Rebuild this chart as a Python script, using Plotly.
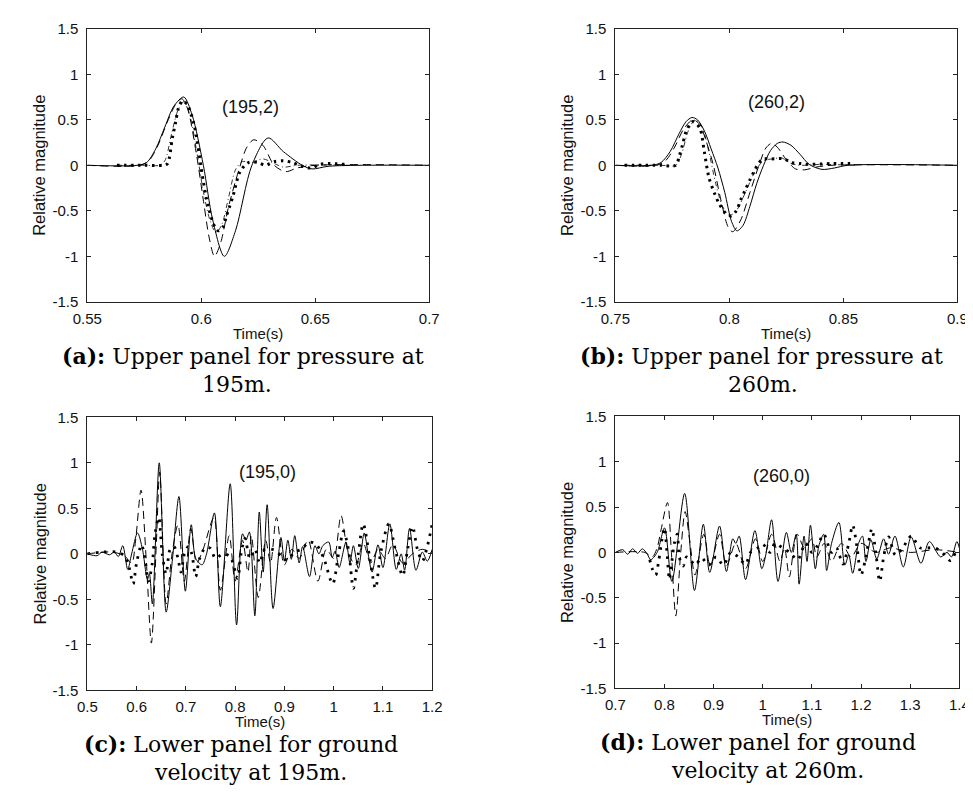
import plotly.graph_objects as go

W, H = 973, 802

# ---------------- data ----------------
# Panel (a): pressure at 195 m, (195,2)
a_solid_t = [0.550, 0.572, 0.576, 0.580, 0.584, 0.588, 0.5923, 0.596, 0.6009, 0.605, 0.6101, 0.615, 0.6222, 0.6293, 0.636, 0.6443, 0.6486, 0.656, 0.700]
a_solid_v = [0.0, 0.0, 0.03, 0.18, 0.42, 0.65, 0.75, 0.55, 0.0, -0.6, -1.0, -0.72, 0.0, 0.30, 0.15, 0.0, -0.04, -0.01, 0.0]
a_dash_t = [0.550, 0.573, 0.577, 0.581, 0.585, 0.589, 0.5915, 0.594, 0.598, 0.601, 0.6035, 0.6058, 0.6085, 0.612, 0.6165, 0.620, 0.623, 0.627, 0.632, 0.637, 0.642, 0.650, 0.700]
a_dash_v = [0.0, 0.0, 0.05, 0.22, 0.47, 0.68, 0.73, 0.62, 0.1, -0.4, -0.8, -1.0, -0.85, -0.45, -0.05, 0.2, 0.28, 0.22, 0.0, -0.07, -0.03, 0.0, 0.0]
a_dashdot_t = [0.563, 0.575, 0.5815, 0.584, 0.587, 0.590, 0.5925, 0.595, 0.598, 0.601, 0.604, 0.6065, 0.609, 0.612, 0.615, 0.618, 0.622, 0.627, 0.632, 0.636, 0.642, 0.665]
a_dashdot_v = [0.0, 0.0, 0.0, 0.05, 0.35, 0.62, 0.70, 0.55, 0.15, -0.3, -0.62, -0.74, -0.65, -0.35, -0.05, 0.04, 0.03, 0.07, 0.02, -0.02, 0.0, 0.0]
a_dot_t = [0.563, 0.575, 0.5835, 0.5852, 0.5873, 0.5888, 0.590, 0.5918, 0.594, 0.5968, 0.6009, 0.6031, 0.606, 0.6075, 0.6097, 0.611, 0.6139, 0.617, 0.6207, 0.625, 0.628, 0.632, 0.636, 0.640, 0.644, 0.648, 0.652, 0.656, 0.663]
a_dot_v = [0.0, 0.0, 0.0, 0.02, 0.3, 0.48, 0.63, 0.71, 0.66, 0.45, -0.18, -0.46, -0.68, -0.72, -0.67, -0.56, -0.34, -0.07, 0.03, 0.03, 0.0, 0.04, 0.05, 0.03, -0.01, -0.03, 0.01, 0.02, 0.01]

# Panel (b): pressure at 260 m, (260,2)
b_solid_t = [0.750, 0.766, 0.770, 0.774, 0.778, 0.781, 0.7836, 0.786, 0.789, 0.792, 0.795, 0.798, 0.801, 0.8033, 0.806, 0.809, 0.812, 0.815, 0.818, 0.821, 0.8235, 0.827, 0.831, 0.835, 0.8406, 0.846, 0.852, 0.900]
b_solid_v = [0.0, 0.0, 0.03, 0.15, 0.35, 0.48, 0.525, 0.50, 0.38, 0.18, -0.03, -0.3, -0.62, -0.72, -0.66, -0.45, -0.2, 0.0, 0.16, 0.24, 0.256, 0.22, 0.12, 0.01, -0.045, -0.03, 0.0, 0.0]
b_dash_t = [0.750, 0.768, 0.772, 0.776, 0.780, 0.784, 0.787, 0.790, 0.793, 0.796, 0.7995, 0.8015, 0.805, 0.809, 0.813, 0.816, 0.8185, 0.821, 0.825, 0.829, 0.833, 0.838, 0.845, 0.900]
b_dash_v = [0.0, 0.0, 0.05, 0.2, 0.4, 0.5, 0.45, 0.25, 0.0, -0.35, -0.68, -0.73, -0.6, -0.3, 0.0, 0.19, 0.24, 0.2, 0.06, -0.04, -0.05, -0.02, 0.0, 0.0]
b_dashdot_t = [0.754, 0.770, 0.7765, 0.779, 0.782, 0.785, 0.788, 0.791, 0.794, 0.797, 0.800, 0.803, 0.807, 0.811, 0.815, 0.819, 0.823, 0.827, 0.831, 0.840, 0.855]
b_dashdot_v = [0.0, 0.0, 0.0, 0.12, 0.38, 0.50, 0.42, 0.15, -0.2, -0.45, -0.55, -0.5, -0.3, -0.08, 0.05, 0.07, 0.08, 0.02, 0.0, 0.01, 0.0]
b_dot_t = [0.754, 0.770, 0.7765, 0.778, 0.7795, 0.781, 0.783, 0.784, 0.787, 0.789, 0.791, 0.7935, 0.7955, 0.7985, 0.8007, 0.803, 0.805, 0.807, 0.809, 0.811, 0.813, 0.815, 0.818, 0.824, 0.827, 0.831, 0.835, 0.845, 0.855]
b_dot_v = [0.0, 0.0, 0.0, 0.1, 0.23, 0.37, 0.46, 0.48, 0.41, 0.15, -0.13, -0.31, -0.42, -0.53, -0.557, -0.5, -0.38, -0.27, -0.16, -0.06, 0.03, 0.07, 0.07, 0.07, 0.03, 0.02, 0.01, 0.02, 0.02]

# Panel (c): ground velocity at 195 m, (195,0)
c_solid_t = [0.500, 0.520, 0.530, 0.545, 0.555, 0.563, 0.572, 0.582, 0.590, 0.602, 0.612, 0.622, 0.626, 0.632, 0.646, 0.660, 0.673, 0.686, 0.699, 0.711, 0.720, 0.733, 0.742, 0.758, 0.770, 0.790, 0.803, 0.815, 0.822, 0.829, 0.840, 0.849, 0.857, 0.865, 0.877, 0.893, 0.900, 0.907, 0.914, 0.921, 0.930, 0.937, 0.951, 0.962, 0.970, 0.978, 0.990, 0.997, 1.003, 1.011, 1.025, 1.033, 1.040, 1.050, 1.062, 1.070, 1.078, 1.090, 1.100, 1.114, 1.127, 1.137, 1.144, 1.154, 1.167, 1.180, 1.190, 1.200]
c_solid_v = [0.0, -0.02, 0.02, -0.01, 0.02, -0.03, 0.09, -0.17, 0.0, 0.23, 0.05, -0.28, -0.22, -0.55, 1.0, -0.64, -0.05, 0.63, -0.41, 0.32, -0.05, -0.12, 0.0, 0.45, -0.58, 0.77, -0.78, 0.22, 0.15, 0.24, -0.68, 0.46, -0.2, 0.54, -0.60, 0.18, -0.08, 0.15, -0.06, 0.20, -0.1, 0.08, -0.25, 0.09, 0.0, 0.09, 0.13, -0.04, 0.03, -0.15, 0.13, -0.1, 0.09, -0.16, 0.23, 0.0, -0.2, 0.1, -0.15, 0.33, -0.17, 0.0, -0.18, 0.28, -0.18, 0.02, -0.08, 0.05]
c_dash_t = [0.500, 0.550, 0.575, 0.590, 0.598, 0.609, 0.620, 0.630, 0.640, 0.647, 0.660, 0.672, 0.684, 0.697, 0.710, 0.722, 0.735, 0.757, 0.770, 0.788, 0.800, 0.815, 0.826, 0.833, 0.847, 0.862, 0.872, 0.884, 0.900, 0.915, 0.930, 0.948, 0.968, 0.985, 1.000, 1.015, 1.030, 1.045, 1.060, 1.075, 1.090, 1.105, 1.120, 1.140, 1.160, 1.180, 1.200]
c_dash_v = [0.0, 0.02, -0.02, -0.1, 0.15, 0.70, -0.1, -0.98, 0.1, 0.9, -0.55, 0.0, 0.32, -0.3, 0.28, -0.1, 0.05, 0.4, -0.4, 0.2, -0.3, 0.15, -0.2, 0.2, -0.48, 0.15, -0.1, 0.40, -0.12, 0.05, -0.05, 0.15, -0.30, 0.05, -0.05, 0.42, 0.0, -0.12, 0.12, -0.1, 0.05, -0.05, 0.1, -0.1, 0.0, 0.05, 0.0]
c_dot_t = [0.500, 0.530, 0.560, 0.575, 0.585, 0.593, 0.600, 0.610, 0.617, 0.624, 0.632, 0.637, 0.645, 0.652, 0.660, 0.668, 0.676, 0.684, 0.690, 0.697, 0.705, 0.712, 0.720, 0.728, 0.740, 0.750, 0.760, 0.775, 0.790, 0.805, 0.812, 0.820, 0.830, 0.840, 0.850, 0.860, 0.880, 0.895, 0.907, 0.920, 0.935, 0.950, 0.965, 0.980, 0.998, 1.010, 1.020, 1.030, 1.040, 1.050, 1.060, 1.072, 1.085, 1.095, 1.112, 1.125, 1.140, 1.150, 1.160, 1.170, 1.180, 1.190, 1.200]
c_dot_v = [0.0, 0.02, 0.02, -0.02, -0.15, -0.33, -0.1, 0.10, -0.05, -0.30, -0.1, 0.2, 0.40, 0.0, -0.22, 0.05, 0.08, -0.05, -0.2, 0.0, 0.08, 0.0, -0.25, -0.05, 0.07, 0.06, -0.05, 0.0, -0.03, -0.27, 0.0, 0.17, -0.05, 0.05, -0.1, 0.05, 0.04, -0.03, -0.07, 0.02, 0.05, 0.13, 0.10, -0.05, -0.33, 0.0, 0.25, 0.05, -0.38, 0.0, 0.33, 0.0, -0.38, 0.0, 0.33, 0.05, -0.24, 0.05, 0.30, 0.05, -0.08, 0.08, 0.33]

# Panel (d): ground velocity at 260 m, (260,0)
d_solid_t = [0.700, 0.715, 0.725, 0.735, 0.745, 0.755, 0.765, 0.772, 0.785, 0.800, 0.815, 0.841, 0.861, 0.879, 0.892, 0.912, 0.926, 0.939, 0.945, 0.952, 0.965, 0.984, 0.998, 1.006, 1.018, 1.031, 1.048, 1.058, 1.068, 1.074, 1.084, 1.090, 1.097, 1.107, 1.114, 1.124, 1.130, 1.140, 1.155, 1.167, 1.175, 1.183, 1.195, 1.203, 1.210, 1.220, 1.232, 1.246, 1.256, 1.269, 1.286, 1.302, 1.322, 1.339, 1.362, 1.375, 1.384, 1.395, 1.400]
d_solid_v = [0.0, 0.03, -0.02, 0.04, -0.01, 0.04, -0.02, -0.08, 0.0, 0.27, -0.32, 0.65, -0.42, 0.31, -0.22, 0.29, -0.21, 0.15, 0.1, 0.18, -0.3, 0.24, -0.18, -0.03, 0.36, -0.32, 0.22, 0.0, 0.2, -0.35, 0.18, -0.1, 0.30, -0.18, 0.07, 0.2, -0.2, 0.1, 0.33, -0.14, -0.03, -0.23, 0.1, 0.18, -0.1, 0.14, -0.07, 0.15, -0.02, 0.18, -0.16, 0.17, -0.12, 0.12, -0.05, 0.0, -0.05, 0.12, 0.05]
d_dash_t = [0.700, 0.760, 0.775, 0.785, 0.793, 0.806, 0.814, 0.823, 0.833, 0.842, 0.852, 0.862, 0.880, 0.893, 0.912, 0.926, 0.945, 0.965, 0.985, 1.000, 1.018, 1.035, 1.044, 1.054, 1.062, 1.070, 1.085, 1.100, 1.110, 1.125, 1.140, 1.160, 1.180, 1.200, 1.230, 1.260, 1.300, 1.350, 1.400]
d_dash_v = [0.0, 0.0, -0.05, 0.05, 0.25, 0.55, 0.0, -0.70, 0.0, 0.45, 0.1, -0.25, 0.2, -0.15, 0.2, -0.15, 0.1, -0.18, 0.15, -0.1, 0.2, -0.1, 0.05, -0.27, 0.0, 0.2, 0.05, 0.15, -0.05, 0.1, -0.1, 0.1, -0.05, 0.1, 0.0, 0.05, 0.0, 0.03, 0.0]
d_dot_t = [0.770, 0.775, 0.782, 0.788, 0.795, 0.800, 0.805, 0.810, 0.815, 0.820, 0.826, 0.830, 0.838, 0.845, 0.855, 0.863, 0.875, 0.890, 0.905, 0.920, 0.935, 0.950, 0.965, 0.975, 0.990, 1.000, 1.015, 1.025, 1.040, 1.055, 1.071, 1.087, 1.100, 1.112, 1.124, 1.140, 1.150, 1.163, 1.175, 1.183, 1.192, 1.200, 1.208, 1.215, 1.222, 1.230, 1.238, 1.246, 1.256, 1.270, 1.285, 1.302, 1.320, 1.335, 1.350, 1.365, 1.382, 1.392]
d_dot_v = [-0.08, -0.18, -0.25, -0.1, 0.15, 0.27, 0.0, -0.30, -0.1, 0.1, 0.2, -0.05, -0.15, -0.05, -0.1, -0.14, -0.06, -0.14, -0.05, -0.14, 0.0, -0.05, -0.13, 0.0, 0.05, 0.09, 0.0, 0.1, 0.05, 0.0, -0.08, 0.1, 0.0, 0.08, 0.2, 0.0, 0.05, -0.13, 0.1, 0.3, 0.05, -0.25, -0.1, 0.1, 0.26, 0.0, -0.32, -0.05, 0.17, -0.03, 0.05, 0.18, 0.05, 0.05, 0.05, 0.0, -0.09, 0.0]

# ticks
y_tick_vals = [-1.5, -1, -0.5, 0, 0.5, 1, 1.5]
y_tick_text = ["-1.5", "-1", "-0.5", "0", "0.5", "1", "1.5"]
a_x_ticks = [0.55, 0.6, 0.65, 0.7]
a_x_text = ["0.55", "0.6", "0.65", "0.7"]
b_x_ticks = [0.75, 0.8, 0.85, 0.9]
b_x_text = ["0.75", "0.8", "0.85", "0.9"]
c_x_ticks = [0.5, 0.6, 0.7, 0.8, 0.9, 1.0, 1.1, 1.2]
c_x_text = ["0.5", "0.6", "0.7", "0.8", "0.9", "1", "1.1", "1.2"]
d_x_ticks = [0.7, 0.8, 0.9, 1.0, 1.1, 1.2, 1.3, 1.4]
d_x_text = ["0.7", "0.8", "0.9", "1", "1.1", "1.2", "1.3", "1.4"]

panel_labels = ["(195,2)", "(260,2)", "(195,0)", "(260,0)"]
panel_label_pos = [(0.6214, 0.64), (0.8205, 0.69), (0.8656, 0.90), (1.039, 0.84)]
captions_l1 = ["<b>(a):</b> Upper panel for pressure at", "<b>(b):</b> Upper panel for pressure at",
               "<b>(c):</b> Lower panel for ground", "<b>(d):</b> Lower panel for ground"]
captions_l2 = ["195m.", "260m.", "velocity at 195m.", "velocity at 260m."]

# ---------------- layout helpers ----------------
def px_x(x):
    return x / W

def px_y(y):
    return 1 - y / H

# pixel boxes of the four axes: (left, right, top, bottom)
boxes = [(66, 417, 12, 291), (608, 959, 12, 291), (66, 420, 409, 688), (608, 961, 408, 686)]
xranges = [[0.55, 0.7], [0.75, 0.9], [0.5, 1.2], [0.7, 1.4]]
xticks = [(a_x_ticks, a_x_text), (b_x_ticks, b_x_text), (c_x_ticks, c_x_text), (d_x_ticks, d_x_text)]
# caption line centres (pixels)
cap1_cx = [226, 758, 224, 754]
cap2_cx = [220, 760, 234, 764]

SOLID, DASH, DASHDOT, DOT = "solid", "8px,5px", "5px,3px,1px,3px", "2.5px,4.5px"

series = [
    [(a_solid_t, a_solid_v, SOLID, 1.0), (a_dash_t, a_dash_v, DASH, 1.0),
     (a_dashdot_t, a_dashdot_v, DASHDOT, 0.8), (a_dot_t, a_dot_v, DOT, 3.0)],
    [(b_solid_t, b_solid_v, SOLID, 1.0), (b_dash_t, b_dash_v, DASH, 1.0),
     (b_dashdot_t, b_dashdot_v, DASHDOT, 0.8), (b_dot_t, b_dot_v, DOT, 3.0)],
    [(c_solid_t, c_solid_v, SOLID, 1.0), (c_dash_t, c_dash_v, DASH, 1.0),
     (c_dot_t, c_dot_v, "2.5px,6px", 2.8)],
    [(d_solid_t, d_solid_v, SOLID, 1.0), (d_dash_t, d_dash_v, DASH, 1.0),
     (d_dot_t, d_dot_v, "2.5px,6px", 2.8)],
]

SANS = "Liberation Sans, Arial, sans-serif"
SERIF = "DejaVu Serif, serif"
tick_font = dict(family=SANS, size=15, color="#111")

fig = go.Figure()

for i, (box, xr, (tv, tt), ser) in enumerate(zip(boxes, xranges, xticks, series)):
    n = "" if i == 0 else str(i + 1)
    for (t, v, dash, w) in ser:
        fig.add_trace(go.Scatter(x=t, y=v, mode="lines", xaxis="x" + n, yaxis="y" + n,
                                 line=dict(color="black", width=w, dash=dash, shape="spline", smoothing=0.85),
                                 showlegend=False, hoverinfo="skip"))
    l, r, tp, bt = box
    common = dict(showline=True, linecolor="#222", linewidth=1, mirror="ticks", ticks="inside",
                  ticklen=4, tickcolor="#222", showgrid=False, zeroline=False, tickfont=tick_font)
    fig.layout["xaxis" + n] = dict(domain=[px_x(l), px_x(r)], range=xr, tickvals=tv, ticktext=tt,
                                   anchor="y" + n, ticklabelstandoff=3, **common)
    fig.layout["yaxis" + n] = dict(domain=[px_y(bt), px_y(tp)], range=[-1.5, 1.5], tickvals=y_tick_vals,
                                   ticktext=y_tick_text, anchor="x" + n, ticklabelstandoff=5, **common)
    # panel label inside the axes
    lx, ly = panel_label_pos[i]
    fig.add_annotation(x=lx, y=ly, xref="x" + n, yref="y" + n, text=panel_labels[i], showarrow=False,
                       xanchor="center", yanchor="middle",
                       font=dict(family=SANS, size=18, color="#111"))
    # axis titles
    fig.add_annotation(x=px_x((l + r) / 2), y=px_y(bt + 32), xref="paper", yref="paper", text="Time(s)",
                       showarrow=False, xanchor="center", yanchor="middle",
                       font=dict(family=SANS, size=15, color="#111"))
    fig.add_annotation(x=px_x(l - 49), y=px_y((tp + bt) / 2), xref="paper", yref="paper",
                       text="Relative magnitude", textangle=-90, showarrow=False,
                       xanchor="center", yanchor="middle",
                       font=dict(family=SANS, size=16.5, color="#111"))
    # captions (two centred lines)
    fig.add_annotation(x=px_x(cap1_cx[i]), y=px_y(bt + 55), xref="paper", yref="paper", text=captions_l1[i],
                       showarrow=False, xanchor="center", yanchor="middle",
                       font=dict(family=SERIF, size=22, color="black"))
    fig.add_annotation(x=px_x(cap2_cx[i]), y=px_y(bt + 84), xref="paper", yref="paper", text=captions_l2[i],
                       showarrow=False, xanchor="center", yanchor="middle",
                       font=dict(family=SERIF, size=22, color="black"))

fig.update_layout(width=W, height=H, margin=dict(l=0, r=0, t=0, b=0),
                  paper_bgcolor="white", plot_bgcolor="white", showlegend=False)

fig.write_html("out.html")
